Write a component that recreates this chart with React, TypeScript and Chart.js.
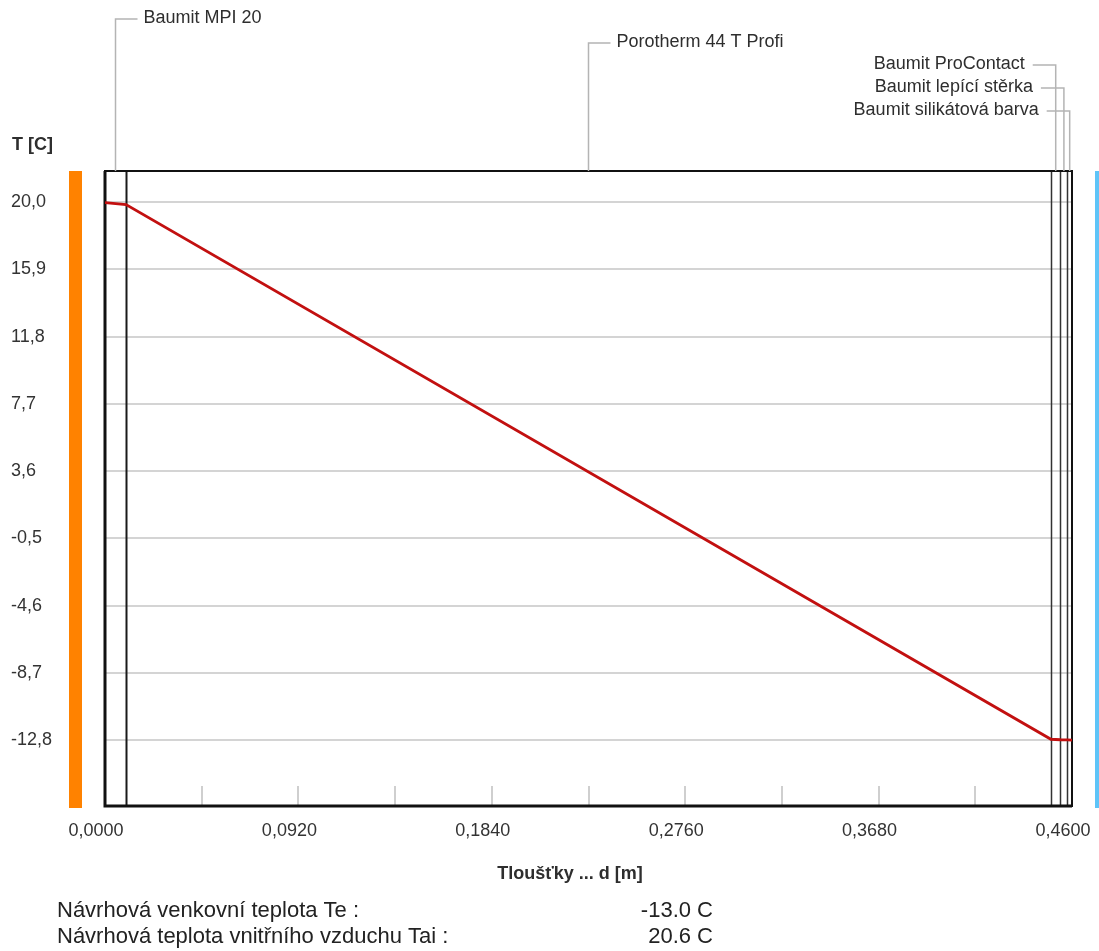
import React, { useEffect, useRef } from "react";
import { Chart, registerables } from "chart.js";

Chart.register(...registerables);

// ---- data ----
const distances = [0, 0.01, 0.45, 0.4545, 0.4578, 0.46];
const temperatures = [19.97, 19.85, -12.75, -12.78, -12.79, -12.8];
const layerBounds = [0, 0.01, 0.45, 0.4545, 0.4578, 0.46];
const layerNames = [
  "Baumit MPI 20",
  "Porotherm 44 T Profi",
  "Baumit ProContact",
  "Baumit lepící stěrka",
  "Baumit silikátová barva",
];
const yTickValues = [20.0, 15.9, 11.8, 7.7, 3.6, -0.5, -4.6, -8.7, -12.8];
const xTickValues = [0, 0.092, 0.184, 0.276, 0.368, 0.46];
const xMinorTicks = [0.046, 0.092, 0.138, 0.184, 0.23, 0.276, 0.322, 0.368, 0.414];
const yAxisTitle = "T [C]";
const xAxisTitle = "Tloušťky ... d [m]";
const summaryLabels = [
  "Návrhová venkovní teplota Te :",
  "Návrhová teplota vnitřního vzduchu Tai :",
];
const summaryValues = ["-13.0 C", "20.6 C"];

// ---- layout / style (not data) ----
const FONT = "'Liberation Sans', Arial, sans-serif";
const TEXT = "#2e2e2e";
const labelLayout = [
  { side: "right", y: 19 },
  { side: "right", y: 43 },
  { side: "left", y: 65 },
  { side: "left", y: 88 },
  { side: "left", y: 111 },
];

const overlay = {
  id: "overlay",
  beforeDatasetsDraw(chart: any) {
    const { ctx, chartArea: a, scales } = chart;
    const x = scales.x;
    ctx.save();
    // minor ticks inside plot
    ctx.strokeStyle = "#cfcfcf";
    ctx.lineWidth = 2;
    xMinorTicks.forEach((v) => {
      const px = Math.round(x.getPixelForValue(v));
      ctx.beginPath();
      ctx.moveTo(px, a.bottom);
      ctx.lineTo(px, a.bottom - 20);
      ctx.stroke();
    });
    // layer boundaries
    for (let i = 1; i < layerBounds.length - 1; i++) {
      const px = Math.round(x.getPixelForValue(layerBounds[i])) + 0.5;
      ctx.strokeStyle = i === 1 ? "#1a1a1a" : "#333";
      ctx.lineWidth = i === 1 ? 2 : 1.5;
      ctx.beginPath();
      ctx.moveTo(px, a.top);
      ctx.lineTo(px, a.bottom);
      ctx.stroke();
    }
    // frame
    ctx.strokeStyle = "#111";
    ctx.lineWidth = 2;
    ctx.strokeRect(a.left, a.top, a.right - a.left, a.bottom - a.top);
    ctx.lineWidth = 3;
    ctx.beginPath();
    ctx.moveTo(a.left, a.top);
    ctx.lineTo(a.left, a.bottom);
    ctx.lineTo(a.right, a.bottom);
    ctx.stroke();
    ctx.restore();
  },
  afterDraw(chart: any) {
    const { ctx, chartArea: a, scales } = chart;
    const x = scales.x;
    ctx.save();
    // side colour bars
    ctx.fillStyle = "#ff8200";
    ctx.fillRect(a.left - 36, a.top, 13, a.bottom + 2 - a.top);
    ctx.fillStyle = "#5ec4f8";
    ctx.fillRect(a.right + 23, a.top, 12, a.bottom + 2 - a.top);

    // layer labels with leaders
    ctx.font = `18px ${FONT}`;
    ctx.textBaseline = "middle";
    layerNames.forEach((name, i) => {
      const cx = x.getPixelForValue((layerBounds[i] + layerBounds[i + 1]) / 2);
      const lay = labelLayout[i];
      ctx.strokeStyle = "#b4b4b4";
      ctx.lineWidth = 1.5;
      ctx.beginPath();
      ctx.moveTo(cx, a.top);
      ctx.lineTo(cx, lay.y);
      if (lay.side === "right") {
        ctx.lineTo(cx + 22, lay.y);
      } else {
        ctx.lineTo(cx - 23, lay.y);
      }
      ctx.stroke();
      ctx.fillStyle = TEXT;
      if (lay.side === "right") {
        ctx.textAlign = "left";
        ctx.fillText(name, cx + 28, lay.y - 1);
      } else {
        ctx.textAlign = "right";
        ctx.fillText(name, cx - 31, lay.y - 1);
      }
    });

    // axis titles
    ctx.font = `bold 18px ${FONT}`;
    ctx.fillStyle = TEXT;
    ctx.textAlign = "left";
    ctx.fillText(yAxisTitle, 12, 145);
    ctx.textAlign = "center";
    ctx.fillText(xAxisTitle, 570, 874);

    // summary lines
    ctx.font = `22px ${FONT}`;
    ctx.fillStyle = "#222";
    const rows = [911, 937];
    summaryLabels.forEach((t, i) => {
      ctx.textAlign = "left";
      ctx.fillText(t, 57, rows[i]);
      ctx.textAlign = "right";
      ctx.fillText(summaryValues[i], 713, rows[i]);
    });
    ctx.restore();
  },
};

export default function App() {
  const ref = useRef<HTMLCanvasElement | null>(null);
  useEffect(() => {
    if (!ref.current) return;
    const chart = new Chart(ref.current, {
      type: "line",
      data: {
        datasets: [
          {
            data: distances.map((d, i) => ({ x: d, y: temperatures[i] })),
            borderColor: "#c21010",
            borderWidth: 2.8,
            pointRadius: 0,
            tension: 0,
            fill: false,
          },
        ],
      },
      options: {
        animation: false,
        responsive: false,
        devicePixelRatio: 1,
        layout: { padding: { left: 11, right: 27, top: 171, bottom: 0 } },
        plugins: { legend: { display: false }, tooltip: { enabled: false } },
        scales: {
          x: {
            type: "linear",
            min: 0,
            max: 0.46,
            grid: { display: false, drawTicks: false },
            border: { display: false },
            afterFit: (s: any) => {
              s.height = 145;
              s.paddingLeft = 0;
              s.paddingRight = 0;
            },
            afterBuildTicks: (s: any) => {
              s.ticks = xTickValues.map((v) => ({ value: v }));
            },
            ticks: {
              maxRotation: 0,
              autoSkip: false,
              padding: 14,
              labelOffset: -9,
              color: "#333",
              font: { family: FONT, size: 18 },
              callback: (v: any) => Number(v).toFixed(4).replace(".", ","),
            },
          },
          y: {
            type: "linear",
            min: -16.82,
            max: 21.9,
            grid: { color: "#d4d4d4", lineWidth: 2, drawTicks: false },
            border: { display: false },
            afterFit: (s: any) => {
              s.width = 94;
              s.paddingTop = 0;
              s.paddingBottom = 0;
            },
            afterBuildTicks: (s: any) => {
              s.ticks = yTickValues.map((v) => ({ value: v }));
            },
            ticks: {
              autoSkip: false,
              crossAlign: "far",
              padding: 10,
              color: "#333",
              font: { family: FONT, size: 18 },
              callback: (v: any) => Number(v).toFixed(1).replace(".", ","),
            },
          },
        },
      },
      plugins: [overlay],
    });
    return () => chart.destroy();
  }, []);
  return (
    <div style={{ position: "absolute", left: 0, top: 0, width: 1099, height: 951, background: "#fff" }}>
      <canvas ref={ref} width={1099} height={951} style={{ display: "block" }} />
    </div>
  );
}
